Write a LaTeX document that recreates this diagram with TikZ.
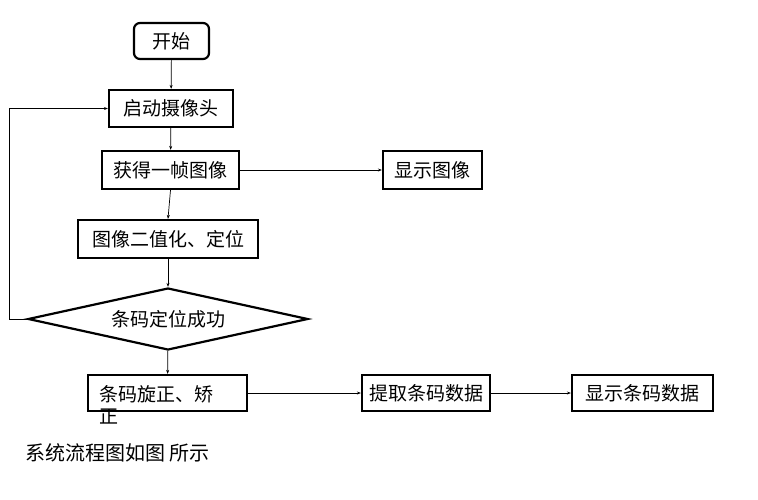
\documentclass[tikz,border=0pt]{standalone}
\usepackage{fontspec}
\setmainfont{Noto Sans CJK SC}
\usetikzlibrary{shapes.geometric,arrows.meta}
\begin{document}
\begin{tikzpicture}[x=1pt,y=-1pt,
  box/.style={draw, line width=2.2pt, inner sep=0pt, font=\fontsize{19}{23}\selectfont},
  conn/.style={line width=0.7pt, -{Stealth[length=4pt,width=3pt]}},
  txt/.style={inner sep=0pt, font=\fontsize{19}{22}\selectfont}]
\useasboundingbox (0,0) rectangle (758,499);
\node[box, rounded corners=6pt, minimum width=75pt, minimum height=36pt] (start) at (171.5,41) {开始};
\node[box, minimum width=124pt, minimum height=37pt] (cam) at (171,108.5) {启动摄像头};
\node[box, minimum width=137pt, minimum height=38pt] (grab) at (170.5,170) {获得一帧图像};
\node[box, minimum width=99pt, minimum height=38pt] (show) at (432.5,170) {显示图像};
\node[box, minimum width=180pt, minimum height=38pt] (bin) at (168,239) {图像二值化、定位};
\node[box, diamond, aspect=4.5, minimum width=280pt, minimum height=62pt] (dec) at (168,319) {条码定位成功};
\node[box, minimum width=159pt, minimum height=36pt] (rot) at (167.5,393) {};
\node[txt, anchor=base west] (rottext) at (99,401) {条码旋正、矫};
\node[txt, anchor=base west] (rottext2) at (99,423) {正};
\node[box, minimum width=128pt, minimum height=36pt] (ext) at (426,393) {提取条码数据};
\node[box, minimum width=141pt, minimum height=36pt] (disp) at (642.5,393) {显示条码数据};
\node[inner sep=0pt, anchor=west, font=\fontsize{20}{24}\selectfont] (cap) at (25,453) {系统流程图如图 所示};
\draw[conn] (start) -- (cam);
\draw[conn] (cam) -- (grab);
\draw[conn] (grab.south) -- (bin.north);
\draw[conn] (bin) -- (dec);
\draw[conn] (dec) -- (rot);
\draw[conn] (dec.west) -- ++(-18,0) |- (cam.west);
\draw[conn] (grab) -- (show);
\draw[conn] (rot) -- (ext);
\draw[conn] (ext) -- (disp);
\end{tikzpicture}
\end{document}
